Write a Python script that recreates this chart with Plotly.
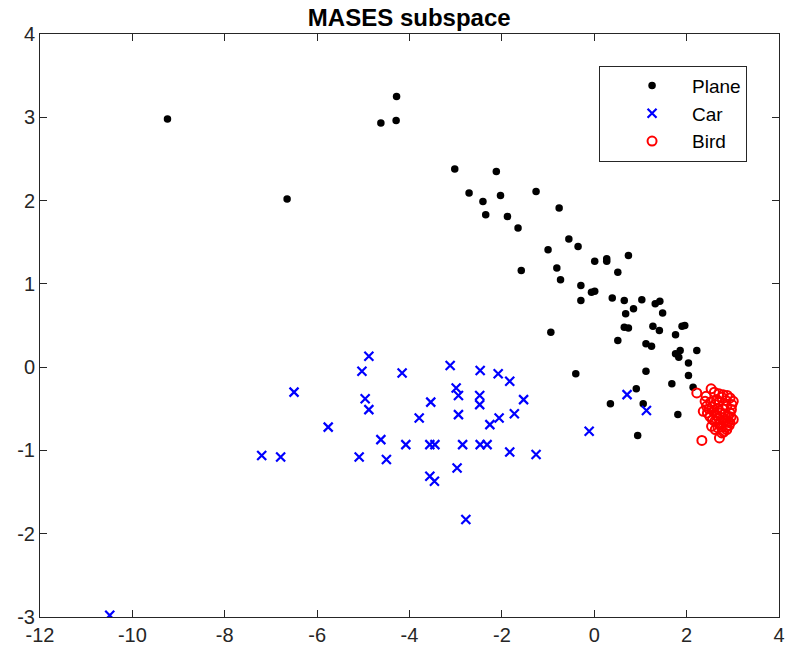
import plotly.graph_objects as go

# Projected coordinates of each class in the MASES subspace
plane_x = [-9.24, -6.65, -4.62, -4.29, -4.28, -3.02, -2.12, -2.71, -2.41, -2.03,
           -2.35, -1.88, -1.26, -1.65, -0.76, -0.55, -0.35, -1.00, -1.58, -0.81,
           -0.73, 0.01, 0.27, 0.27, 0.74, 0.51, -0.29, -0.06, 0.01, -0.29,
           0.39, 0.65, 1.03, 0.68, 0.85, 1.32, 1.42, 1.48, 0.65, 0.74,
           1.27, 1.41, 1.90, 1.96, -0.94, 0.51, 1.76, 1.12, 1.24, 1.76,
           1.86, 1.83, 2.22, 2.04, -0.40, 1.12, 2.04, 1.68, 2.14, 0.91,
           0.35, 1.06, 1.81, 0.94]
plane_y = [2.98, 2.02, 2.93, 2.96, 3.25, 2.38, 2.35, 2.09, 1.99, 2.06,
           1.83, 1.81, 2.11, 1.67, 1.91, 1.54, 1.45, 1.41, 1.16, 1.19,
           1.05, 1.27, 1.30, 1.27, 1.34, 1.14, 0.98, 0.90, 0.91, 0.80,
           0.83, 0.80, 0.81, 0.64, 0.70, 0.76, 0.79, 0.65, 0.48, 0.47,
           0.49, 0.44, 0.49, 0.50, 0.42, 0.32, 0.39, 0.28, 0.25, 0.16,
           0.20, 0.12, 0.20, 0.05, -0.08, -0.05, -0.10, -0.20, -0.24, -0.26,
           -0.44, -0.44, -0.57, -0.82]

car_x = [-10.49, -7.20, -6.79, -6.50, -5.76, -5.03, -4.88, -4.96, -4.88, -5.09,
         -4.62, -4.50, -4.16, -4.08, -3.79, -3.54, -3.56, -3.45, -3.56, -3.46,
         -3.12, -2.99, -2.94, -2.94, -2.85, -2.97, -2.78, -2.47, -2.48, -2.48,
         -2.47, -2.32, -2.26, -2.08, -2.06, -1.83, -1.73, -1.83, -1.53, -1.26,
         -0.11, 0.71, 1.13]
car_y = [-2.98, -1.06, -1.08, -0.30, -0.72, -0.05, 0.13, -0.38, -0.51, -1.08,
         -0.87, -1.11, -0.07, -0.93, -0.61, -0.42, -0.93, -0.93, -1.31, -1.37,
         0.02, -0.25, -0.34, -0.57, -0.93, -1.21, -1.83, -0.04, -0.34, -0.45,
         -0.93, -0.93, -0.69, -0.08, -0.61, -0.17, -0.56, -1.02, -0.39, -1.05,
         -0.77, -0.33, -0.52]

bird_x = [2.22, 2.53, 2.42, 2.76, 2.94, 2.36, 2.43, 2.61, 2.87, 2.97,
          2.50, 2.72, 2.90, 2.61, 2.79, 2.94, 2.68, 2.87, 2.33, 2.71,
          3.01, 2.79, 2.54, 2.76, 2.40, 2.65, 2.79, 2.58, 2.94, 3.01,
          2.60, 2.70, 2.88, 2.98, 2.85, 2.70, 2.52, 2.45, 2.55, 2.66,
          2.78, 2.83, 2.65, 2.56, 2.70, 2.84, 2.92, 2.75, 2.62, 2.80,
          2.90, 2.48, 2.96, 2.72, 2.86]
bird_y = [-0.31, -0.26, -0.35, -0.36, -0.37, -0.53, -0.47, -0.45, -0.47, -0.51,
          -0.59, -0.55, -0.59, -0.65, -0.67, -0.67, -0.73, -0.75, -0.88, -0.85,
          -0.41, -0.33, -0.71, -0.79, -0.41, -0.39, -0.61, -0.53, -0.55, -0.63,
          -0.30, -0.32, -0.34, -0.45, -0.40, -0.42, -0.42, -0.55, -0.48, -0.50,
          -0.50, -0.56, -0.58, -0.63, -0.62, -0.64, -0.70, -0.72, -0.75, -0.78,
          -0.66, -0.50, -0.60, -0.68, -0.72]

x_ticks = [-12, -10, -8, -6, -4, -2, 0, 2, 4]
y_ticks = [-3, -2, -1, 0, 1, 2, 3, 4]

AX = "#262626"
FONT = "Liberation Sans, Arial, Helvetica, sans-serif"

fig = go.Figure()
fig.add_trace(go.Scatter(
    x=plane_x, y=plane_y, mode="markers", name="Plane",
    marker=dict(symbol="circle", size=7.5, color="black", line=dict(width=0)),
))
fig.add_trace(go.Scatter(
    x=car_x, y=car_y, mode="markers", name="Car",
    marker=dict(symbol="x-thin-open", size=9, color="blue",
                line=dict(width=2.2, color="blue")),
))
fig.add_trace(go.Scatter(
    x=bird_x, y=bird_y, mode="markers", name="Bird",
    marker=dict(symbol="circle-open", size=9, color="red",
                line=dict(width=2, color="red")),
))

axis_common = dict(
    showgrid=False, zeroline=False, showline=True, linecolor=AX, linewidth=1,
    ticks="inside", ticklen=7, tickwidth=1, tickcolor=AX, mirror="ticks",
    tickfont=dict(family=FONT, size=20, color=AX), automargin=False,
)

fig.update_layout(
    width=787, height=660,
    margin=dict(l=40, r=8, t=34, b=43, autoexpand=False),
    paper_bgcolor="white", plot_bgcolor="white",
    font=dict(family=FONT, color=AX),
    title=dict(text="<b>MASES subspace</b>", x=0.52, xanchor="center",
               y=1 - 18 / 660, yanchor="middle", yref="container",
               font=dict(family=FONT, size=24, color="black")),
    xaxis=dict(range=[-12, 4], tickvals=x_ticks, ticktext=[str(v) for v in x_ticks],
               **axis_common),
    yaxis=dict(range=[-3, 4], tickvals=y_ticks, ticktext=[str(v) for v in y_ticks],
               **axis_common),
    legend=dict(x=0.7565, y=0.9455, xanchor="left", yanchor="top",
                bgcolor="white", bordercolor=AX, borderwidth=1,
                font=dict(family=FONT, size=19, color="black"),
                itemwidth=70, indentation=12),
    showlegend=True,
)

fig.write_html("out.html")
